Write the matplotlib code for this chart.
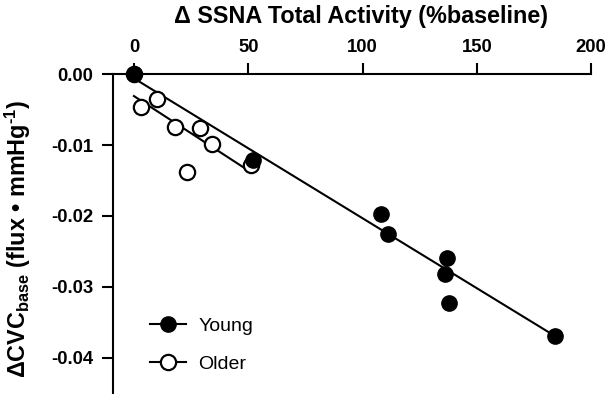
import matplotlib
matplotlib.use('Agg')
import matplotlib.pyplot as plt
from matplotlib.lines import Line2D

# data
young_x = [0, 52, 108, 111, 137, 136, 138, 184]
young_y = [0.0, -0.0121, -0.0197, -0.0225, -0.0259, -0.0282, -0.0323, -0.0369]
older_x = [0, 3, 10, 18, 29, 34, 23, 51]
older_y = [0.0, -0.0046, -0.0035, -0.0074, -0.0076, -0.0098, -0.0138, -0.0128]

# regression line end points
young_fit_x = [0, 184]
young_fit_y = [-0.0006, -0.0369]
older_fit_x = [0, 51]
older_fit_y = [-0.0031, -0.0138]

xticks = [0, 50, 100, 150, 200]
yticks = [0.0, -0.01, -0.02, -0.03, -0.04]
ytick_labels = ['0.00', '-0.01', '-0.02', '-0.03', '-0.04']

plt.rcParams['font.family'] = ['Liberation Sans', 'DejaVu Sans']
plt.rcParams['mathtext.fontset'] = 'custom'
plt.rcParams['mathtext.rm'] = 'Liberation Sans:bold'
plt.rcParams['mathtext.bf'] = 'Liberation Sans:bold'

fig = plt.figure(figsize=(6.07, 3.94), dpi=100)
ax = fig.add_axes([0.186, 0.0, 0.788, 0.812])

ax.plot(young_fit_x, young_fit_y, color='black', lw=1.5, zorder=2)
ax.plot(older_fit_x, older_fit_y, color='black', lw=1.5, zorder=2)
ax.plot(older_x, older_y, 'o', ms=11, mfc='white', mec='black', mew=1.6, zorder=3, clip_on=False)
ax.plot(young_x, young_y, 'o', ms=11, mfc='black', mec='black', zorder=4, clip_on=False)

ax.set_xlim(-9.2, 200)
ax.set_ylim(-0.0451, 0.0)

ax.spines['right'].set_visible(False)
ax.spines['bottom'].set_visible(False)
ax.spines['top'].set_position(('data', 0.0))
ax.spines['left'].set_position(('data', -9.2))
for s in ['top', 'left']:
    ax.spines[s].set_linewidth(1.5)

ax.xaxis.tick_top()
ax.xaxis.set_label_position('top')
ax.set_xticks(xticks)
ax.set_xticklabels([str(t) for t in xticks], fontweight='bold', fontsize=13.3)
ax.set_yticks(yticks)
ax.set_yticklabels(ytick_labels, fontweight='bold', fontsize=13.3)
ax.tick_params(direction='out', length=8, width=1.5)
ax.tick_params(axis='x', pad=5)
ax.tick_params(axis='y', pad=6)

ax.set_xlabel('Δ SSNA Total Activity (%baseline)', fontweight='bold', fontsize=16.8)
ax.xaxis.set_label_coords(0.519, 1.16)
ax.set_ylabel(r'ΔCVC$_{\mathrm{base}}$ (flux • mmHg$^{\mathrm{\text{-}1}}$)', fontweight='bold', fontsize=16.8)
ax.yaxis.set_label_coords(-0.168, 0.485)

handles = [
    Line2D([0], [0], color='black', lw=1.5, marker='o', ms=11, mfc='black', mec='black'),
    Line2D([0], [0], color='black', lw=1.5, marker='o', ms=11, mfc='white', mec='black', mew=1.6),
]
ax.legend(handles, ['Young', 'Older'], loc='lower left', bbox_to_anchor=(0.04, 0.01),
          frameon=False, fontsize=14, handlelength=1.9, handletextpad=0.6, labelspacing=1.05)

fig.savefig('out.png', dpi=100)
